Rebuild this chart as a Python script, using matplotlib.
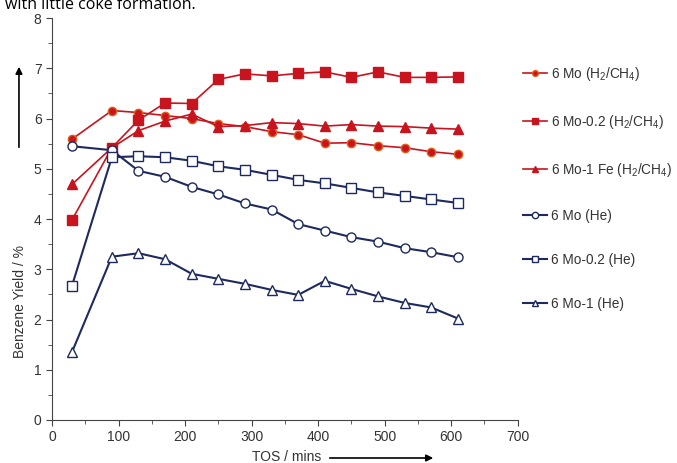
import matplotlib
matplotlib.use("Agg")
import matplotlib.pyplot as plt
from matplotlib.ticker import MultipleLocator

plt.rcParams["font.family"] = ["Liberation Sans", "DejaVu Sans"]

tos = [30, 90, 130, 170, 210, 250, 290, 330, 370, 410, 450, 490, 530, 570, 610]

mo_h2 = [5.59, 6.16, 6.12, 6.06, 6.00, 5.90, 5.84, 5.74, 5.68, 5.51, 5.52, 5.46, 5.42, 5.34, 5.29]
mo02_h2 = [3.98, 5.42, 5.97, 6.31, 6.30, 6.78, 6.89, 6.85, 6.90, 6.93, 6.82, 6.93, 6.82, 6.82, 6.83]
mo1fe_h2 = [4.69, 5.42, 5.76, 5.95, 6.09, 5.84, 5.86, 5.92, 5.90, 5.85, 5.88, 5.85, 5.84, 5.81, 5.79]
mo_he = [5.45, 5.37, 4.96, 4.84, 4.64, 4.49, 4.31, 4.19, 3.90, 3.77, 3.64, 3.55, 3.42, 3.34, 3.24]
mo02_he = [2.67, 5.23, 5.25, 5.23, 5.16, 5.05, 4.98, 4.88, 4.78, 4.71, 4.62, 4.53, 4.46, 4.39, 4.32]
mo1_he = [1.35, 3.25, 3.32, 3.20, 2.91, 2.81, 2.71, 2.59, 2.49, 2.77, 2.61, 2.46, 2.33, 2.24, 2.02]

labels = [
    r"6 Mo ($\mathregular{H_2/CH_4}$)",
    r"6 Mo-0.2 ($\mathregular{H_2/CH_4}$)",
    r"6 Mo-1 Fe ($\mathregular{H_2/CH_4}$)",
    "6 Mo (He)",
    "6 Mo-0.2 (He)",
    "6 Mo-1 (He)",
]

red = "#c8141e"
navy = "#1e2a5e"

fig = plt.figure(figsize=(6.77, 4.63), dpi=100)
ax = fig.add_axes([0.0768, 0.0929, 0.688, 0.868])

ax.plot(tos, mo_h2, color=red, lw=1.2, marker="o", ms=6, mfc=red, mec="#e0601a", label=labels[0])
ax.plot(tos, mo02_h2, color=red, lw=1.2, marker="s", ms=7, mfc=red, mec=red, label=labels[1])
ax.plot(tos, mo1fe_h2, color=red, lw=1.2, marker="^", ms=7, mfc=red, mec=red, label=labels[2])
ax.plot(tos, mo_he, color=navy, lw=1.5, marker="o", ms=6.5, mfc="white", mec=navy, mew=1, label=labels[3])
ax.plot(tos, mo02_he, color=navy, lw=1.5, marker="s", ms=6.5, mfc="white", mec=navy, mew=1, label=labels[4])
ax.plot(tos, mo1_he, color=navy, lw=1.5, marker="^", ms=7, mfc="white", mec=navy, mew=1, label=labels[5])

ax.set_xlim(0, 700)
ax.set_ylim(0, 8)
ax.xaxis.set_major_locator(MultipleLocator(100))
ax.xaxis.set_minor_locator(MultipleLocator(50))
ax.yaxis.set_major_locator(MultipleLocator(1))
ax.yaxis.set_minor_locator(MultipleLocator(0.5))
ax.spines["top"].set_visible(False)
ax.spines["right"].set_visible(False)
for s in ("left", "bottom"):
    ax.spines[s].set_color("#444444")
ax.tick_params(which="both", direction="out", colors="#444444", labelcolor="#333333", labelsize=10)
ax.tick_params(which="major", length=4)
ax.tick_params(which="minor", length=3)

# axis labels with arrows
fig.text(0.030, 0.348, "Benzene Yield / %", rotation=90, ha="center", va="center",
         fontsize=10, color="#333333")
fig.add_artist(plt.Annotation("", xy=(0.028, 1 - 64 / 463), xytext=(0.028, 1 - 150 / 463),
                              xycoords="figure fraction",
                              arrowprops=dict(arrowstyle="-|>", color="black", lw=1.2, mutation_scale=10)))
fig.text(287 / 677, 1 - 457 / 463, "TOS / mins", ha="center", va="center", fontsize=10, color="#333333")
fig.add_artist(plt.Annotation("", xy=(436 / 677, 1 - 458 / 463), xytext=(327 / 677, 1 - 458 / 463),
                              xycoords="figure fraction",
                              arrowprops=dict(arrowstyle="-|>", color="black", lw=1.2, mutation_scale=10)))

# caption text from the page above the chart
fig.text(5 / 677, 1 - 9 / 463, "with little coke formation.", fontsize=11.5, color="black",
         ha="left", va="baseline", family=["Open Sans", "DejaVu Sans"])

leg = ax.legend(loc="upper left", bbox_to_anchor=(519 / 677, 1 - 61 / 463),
                bbox_transform=fig.transFigure, frameon=False, fontsize=9.8,
                handlelength=1.75, handletextpad=0.3, labelspacing=2.2, markerscale=0.7,
                borderaxespad=0, borderpad=0.3)
for t in leg.get_texts():
    t.set_color("#333333")

fig.savefig("out.png", dpi=100)
